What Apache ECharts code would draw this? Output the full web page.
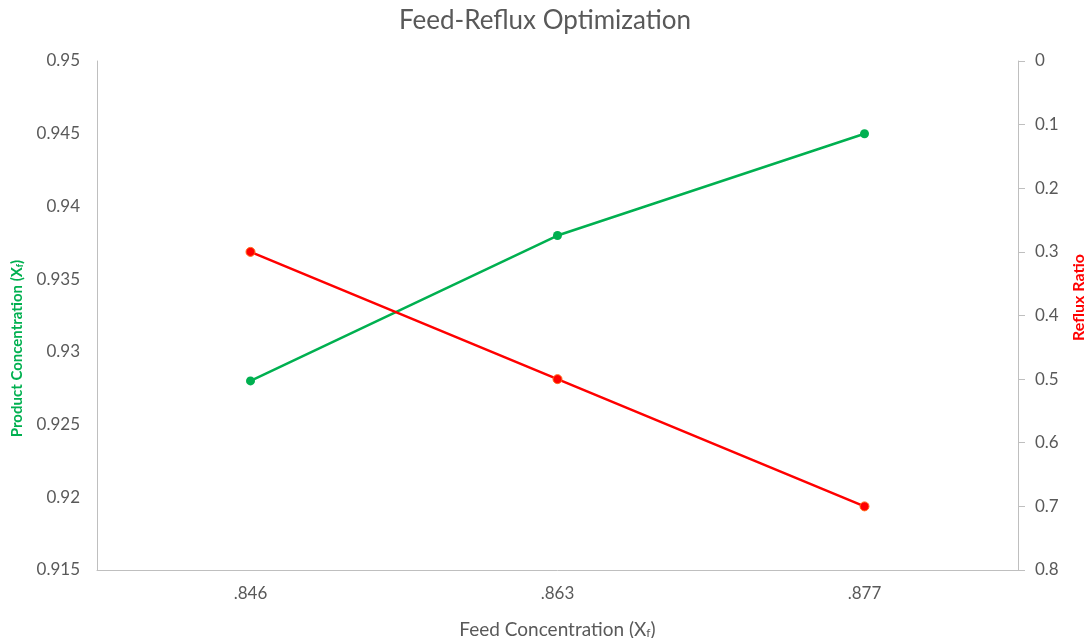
<!DOCTYPE html>
<html>
<head>
<meta charset="utf-8">
<title>Feed-Reflux Optimization</title>
<script src="https://cdn.jsdelivr.net/npm/echarts@6/dist/echarts.min.js"></script>
<style>
  html, body { margin: 0; padding: 0; background: #fff; }
  #chart { width: 1090px; height: 638px; }
</style>
</head>
<body>
<div id="chart"></div>
<script>
// values
const feedConc = ['.846', '.863', '.877'];
const productConc = [0.928, 0.938, 0.945];
const refluxRatio = [0.3, 0.5, 0.7];

const gray = '#595959';
const axisGray = '#bfbfbf';
const green = '#00B050';
const red = '#FF0000';
const font = 'Lato, "Open Sans", sans-serif';

const chart = echarts.init(document.getElementById('chart'));

chart.setOption({
  animation: false,
  textStyle: { fontFamily: font },
  title: {
    text: 'Feed-Reflux Optimization',
    left: 'center',
    top: 3,
    textStyle: { color: gray, fontSize: 26, fontWeight: 'normal', fontFamily: font }
  },
  grid: { left: 97, right: 72, top: 61, bottom: 68, outerBoundsMode: 'none', containLabel: false },
  xAxis: {
    type: 'category',
    data: feedConc,
    boundaryGap: true,
    name: 'Feed Concentration (X{sub|f})',
    nameLocation: 'middle',
    nameGap: 50,
    nameTextStyle: {
      color: gray, fontSize: 19, fontFamily: font,
      rich: { sub: { fontSize: 12, color: gray, verticalAlign: 'bottom', padding: [7, 0, 0, 0] } }
    },
    axisLine: { onZero: false, lineStyle: { color: axisGray, width: 1 } },
    axisTick: { show: false },
    axisLabel: { color: gray, fontSize: 17, margin: 15 },
    splitLine: { show: false }
  },
  yAxis: [
    {
      type: 'value',
      min: 0.915,
      max: 0.95,
      interval: 0.005,
      name: 'Product Concentration (X{sub|f})',
      nameLocation: 'middle',
      nameGap: 72,
      nameRotate: 90,
      nameTextStyle: {
        color: green, fontSize: 15, fontWeight: 'bold', fontFamily: font,
        padding: [0, 66, 0, 0],
        rich: { sub: { fontSize: 9, color: green, fontWeight: 'bold', verticalAlign: 'bottom', padding: [5, 0, 0, 0] } }
      },
      axisLine: { show: true, lineStyle: { color: axisGray, width: 1 } },
      axisTick: { show: false },
      axisLabel: { color: gray, fontSize: 17, margin: 17 },
      splitLine: { show: false }
    },
    {
      type: 'value',
      inverse: true,
      min: 0,
      max: 0.8,
      interval: 0.1,
      name: 'Reflux Ratio',
      nameLocation: 'middle',
      nameGap: 53,
      nameRotate: 90,
      nameTextStyle: {
        color: red, fontSize: 16, fontWeight: 'bold', fontFamily: font,
        padding: [0, 0, 0, 36]
      },
      axisLine: { show: true, lineStyle: { color: axisGray, width: 1 } },
      axisTick: { show: true, inside: false, length: 7, lineStyle: { color: axisGray } },
      axisLabel: { color: gray, fontSize: 17, margin: 17 },
      splitLine: { show: false }
    }
  ],
  series: [
    {
      name: 'Product Concentration',
      type: 'line',
      yAxisIndex: 0,
      data: productConc,
      symbol: 'circle',
      symbolSize: 9,
      lineStyle: { color: green, width: 2.5 },
      itemStyle: { color: green }
    },
    {
      name: 'Reflux Ratio',
      type: 'line',
      yAxisIndex: 1,
      data: refluxRatio,
      symbol: 'circle',
      symbolSize: 9,
      lineStyle: { color: red, width: 2.5 },
      itemStyle: { color: red, borderColor: '#FF6A1A', borderWidth: 1 }
    }
  ]
});
</script>
</body>
</html>
